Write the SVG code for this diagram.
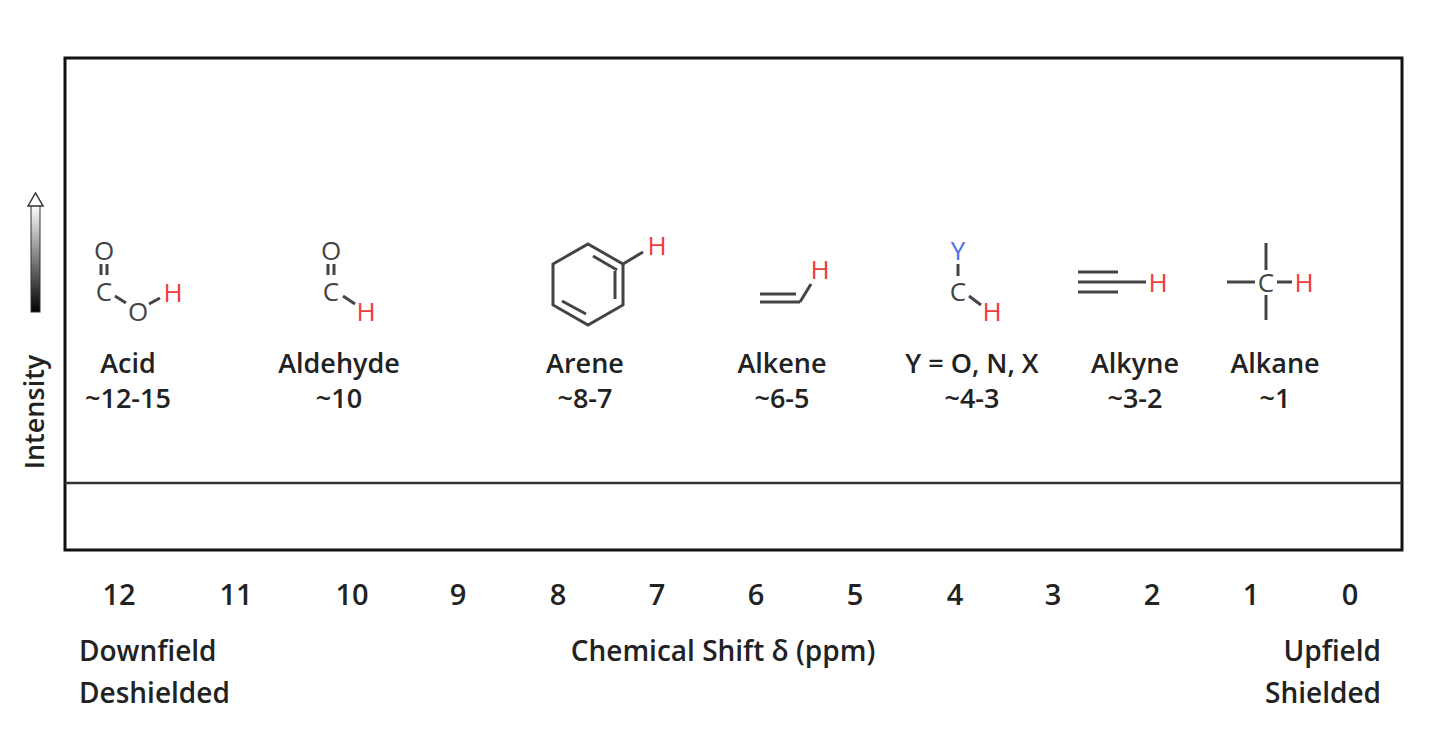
<svg xmlns="http://www.w3.org/2000/svg" width="1440" height="734" viewBox="0 0 1440 734">
<defs>
<linearGradient id="g" x1="0" y1="0" x2="0" y2="1"><stop offset="0" stop-color="#fff"/><stop offset="1" stop-color="#000"/></linearGradient>
<style>
text{font-family:"Open Sans","Liberation Sans",sans-serif;fill:#222;font-weight:600}
.lbl{font-size:27px;text-anchor:middle}
.ax{font-size:29px;text-anchor:middle}
.at{font-size:26px;text-anchor:middle;fill:#444;font-weight:400}
.h{fill:#f03c3c}
.y{fill:#4a6ee8}
.b{stroke:#444;stroke-width:3;fill:none}
</style>
</defs>
<rect x="65" y="58" width="1337" height="492" fill="#fff" stroke="#111" stroke-width="3"/>
<line x1="65" y1="483" x2="1402" y2="483" stroke="#333" stroke-width="2.5"/>
<g id="intensity">
<rect x="31" y="205" width="9" height="107" fill="url(#g)" stroke="#333" stroke-width="1"/>
<path d="M28 206 L35.5 193 L43 206 Z" fill="#fff" stroke="#333" stroke-width="1.5"/>
<text x="44" y="412" font-size="27" text-anchor="middle" transform="rotate(-90 44 412)">Intensity</text>
</g>
<g id="acid">
<text class="at" x="104" y="260">O</text>
<line class="b" x1="101" y1="264" x2="101" y2="275"/><line class="b" x1="107" y1="264" x2="107" y2="275"/>
<text class="at" x="104" y="301">C</text>
<line class="b" x1="115" y1="296" x2="126" y2="303"/>
<text class="at" x="138" y="321">O</text>
<line class="b" x1="149" y1="304" x2="160" y2="298"/>
<text class="at h" x="173" y="302">H</text>
<text class="lbl" x="128" y="373">Acid</text>
<text class="lbl" x="128" y="408">~12-15</text>
</g>
<g id="aldehyde">
<text class="at" x="331" y="260">O</text>
<line class="b" x1="328" y1="264" x2="328" y2="275"/><line class="b" x1="334" y1="264" x2="334" y2="275"/>
<text class="at" x="331" y="301">C</text>
<line class="b" x1="343" y1="296" x2="355" y2="304"/>
<text class="at h" x="366" y="321">H</text>
<text class="lbl" x="339" y="373">Aldehyde</text>
<text class="lbl" x="339" y="408">~10</text>
</g>
<g id="arene">
<polygon class="b" points="588,244 623,264 623,305 588,325 553,305 553,264"/>
<line class="b" x1="593" y1="256" x2="617" y2="270"/><line class="b" x1="615" y1="271" x2="615" y2="299"/><line class="b" x1="562" y1="301" x2="586" y2="314"/>
<line class="b" x1="623" y1="264" x2="643" y2="252"/>
<text class="at h" x="657" y="255">H</text>
<text class="lbl" x="585" y="373">Arene</text>
<text class="lbl" x="585" y="408">~8-7</text>
</g>
<g id="alkene">
<line class="b" x1="760" y1="294" x2="796" y2="294"/><line class="b" x1="760" y1="302" x2="800" y2="302"/>
<line class="b" x1="800" y1="302" x2="811" y2="284"/>
<text class="at h" x="820" y="279">H</text>
<text class="lbl" x="782" y="373">Alkene</text>
<text class="lbl" x="782" y="408">~6-5</text>
</g>
<g id="y">
<text class="at y" x="958" y="260">Y</text>
<line class="b" x1="958" y1="264" x2="958" y2="276"/>
<text class="at" x="958" y="301">C</text>
<line class="b" x1="969" y1="296" x2="981" y2="305"/>
<text class="at h" x="992" y="321">H</text>
<text class="lbl" x="972" y="373">Y = O, N, X</text>
<text class="lbl" x="972" y="408">~4-3</text>
</g>
<g id="alkyne">
<line class="b" x1="1078" y1="272" x2="1118" y2="272"/><line class="b" x1="1078" y1="282" x2="1146" y2="282"/><line class="b" x1="1078" y1="292" x2="1118" y2="292"/>
<text class="at h" x="1158" y="292">H</text>
<text class="lbl" x="1135" y="373">Alkyne</text>
<text class="lbl" x="1135" y="408">~3-2</text>
</g>
<g id="alkane">
<line class="b" x1="1227" y1="282" x2="1255" y2="282"/><line class="b" x1="1266" y1="243" x2="1266" y2="270"/><line class="b" x1="1266" y1="295" x2="1266" y2="320"/><line class="b" x1="1277" y1="282" x2="1292" y2="282"/>
<text class="at" x="1266" y="292">C</text>
<text class="at h" x="1304" y="292">H</text>
<text class="lbl" x="1275" y="373">Alkane</text>
<text class="lbl" x="1275" y="408">~1</text>
</g>
<g id="axis">
<text class="ax" x="119" y="605">12</text><text class="ax" x="236" y="605">11</text><text class="ax" x="352" y="605">10</text><text class="ax" x="458" y="605">9</text><text class="ax" x="558" y="605">8</text><text class="ax" x="657" y="605">7</text><text class="ax" x="756" y="605">6</text><text class="ax" x="855" y="605">5</text><text class="ax" x="955" y="605">4</text><text class="ax" x="1053" y="605">3</text><text class="ax" x="1152" y="605">2</text><text class="ax" x="1251" y="605">1</text><text class="ax" x="1350" y="605">0</text>
<text x="79" y="661" font-size="28">Downfield</text><text x="79" y="703" font-size="28">Deshielded</text>
<text x="723" y="661" font-size="28" text-anchor="middle">Chemical Shift δ (ppm)</text>
<text x="1381" y="661" font-size="28" text-anchor="end">Upfield</text><text x="1381" y="703" font-size="28" text-anchor="end">Shielded</text>
</g>
</svg>
